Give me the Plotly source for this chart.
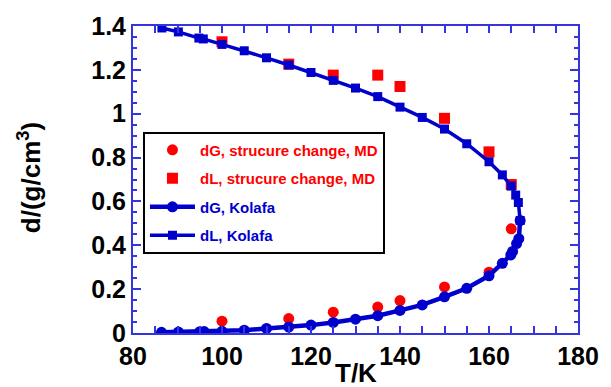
import plotly.graph_objects as go

# Kolafa coexistence curve: gas branch (dG) and liquid branch (dL)
T_gas = [86.4, 90.2, 95.0, 96.0, 100, 105, 110, 115, 120, 125, 130, 135, 140,
         145, 150, 155, 160, 163, 164.9, 165.3, 166.2, 166.7, 167.0]
d_gas = [0.003, 0.004, 0.006, 0.0065, 0.0076, 0.013, 0.021, 0.027, 0.036, 0.048,
         0.063, 0.079, 0.103, 0.128, 0.165, 0.204, 0.261, 0.318, 0.356, 0.372,
         0.408, 0.430, 0.513]

T_liq = [86.5, 90.2, 94.8, 95.8, 100, 105, 110, 115, 120, 125, 130, 135, 140,
         145, 150, 155, 160, 163, 165, 166.0, 166.6, 167.0]
d_liq = [1.391, 1.373, 1.345, 1.341, 1.316, 1.287, 1.255, 1.222, 1.188, 1.152,
         1.117, 1.078, 1.030, 0.983, 0.930, 0.863, 0.781, 0.721, 0.670, 0.629,
         0.595, 0.513]

# MD results from the structure-change analysis
T_md_gas = [100, 115, 125, 135, 140, 150, 160, 165]
d_md_gas = [0.054, 0.066, 0.095, 0.118, 0.148, 0.210, 0.277, 0.475]

T_md_liq = [100, 115, 125, 135, 140, 150, 160, 165]
d_md_liq = [1.328, 1.226, 1.176, 1.176, 1.124, 0.979, 0.826, 0.677]

x_ticks = [80, 100, 120, 140, 160, 180]
y_ticks = [0, 0.2, 0.4, 0.6, 0.8, 1.0, 1.2, 1.4]

RED = "#ff0000"
BLUE = "#0000cc"
AXIS = "#3535e0"
FONT = "Liberation Sans"

fig = go.Figure()

fig.add_trace(go.Scatter(
    x=T_md_gas, y=d_md_gas, mode="markers", legendgroup="a",
    name='<span style="color:#ff0000">dG, strucure change, MD</span>',
    marker=dict(symbol="circle", size=11, color=RED, line=dict(width=0)),
))
fig.add_trace(go.Scatter(
    x=T_md_liq, y=d_md_liq, mode="markers", legendgroup="b",
    name='<span style="color:#ff0000">dL, strucure change, MD</span>',
    marker=dict(symbol="square", size=11, color=RED, line=dict(width=0)),
))
fig.add_trace(go.Scatter(
    x=T_gas, y=d_gas, mode="lines+markers", legendgroup="c",
    name='<span style="color:#0000cc">dG, Kolafa</span>',
    line=dict(color=BLUE, width=4.5),
    marker=dict(symbol="circle", size=11, color=BLUE, line=dict(width=0)),
))
fig.add_trace(go.Scatter(
    x=T_liq, y=d_liq, mode="lines+markers", legendgroup="d",
    name='<span style="color:#0000cc">dL, Kolafa</span>',
    line=dict(color=BLUE, width=3.5),
    marker=dict(symbol="square", size=9, color=BLUE, line=dict(width=0)),
))

axis_common = dict(
    showline=True, linecolor=AXIS, linewidth=2, mirror="ticks",
    showgrid=False, zeroline=False, ticks="inside", tickcolor=AXIS,
    tickwidth=1.5,
    tickfont=dict(family=FONT, size=25, color="black", weight="bold"),
)

fig.update_xaxes(
    range=[80, 180], tickvals=x_ticks, ticklen=7,
    minor=dict(dtick=5, tick0=80, ticks="inside", ticklen=7, tickcolor=AXIS,
               tickwidth=1.5, showgrid=False),
    **axis_common,
)
fig.update_yaxes(
    range=[0, 1.4], tickvals=y_ticks, ticktext=[f"{v:g}" for v in y_ticks],
    ticklen=8,
    minor=dict(dtick=0.05, tick0=0, ticks="inside", ticklen=4, tickcolor=AXIS,
               tickwidth=1.5, showgrid=False),
    **axis_common,
)

fig.add_annotation(
    text="d/(g/cm<sup>3</sup>)", xref="paper", yref="paper",
    x=-0.231, y=0.505, textangle=-90, showarrow=False,
    xanchor="center", yanchor="middle",
    font=dict(family=FONT, size=26, color="black", weight="bold"),
)
fig.add_annotation(
    text="T/K", xref="paper", yref="paper",
    x=0.5, y=-0.131, showarrow=False, xanchor="center", yanchor="middle",
    font=dict(family=FONT, size=26, color="black", weight="bold"),
)

fig.update_layout(
    width=611, height=387,
    margin=dict(l=133, r=32, t=20, b=54),
    paper_bgcolor="white", plot_bgcolor="white",
    showlegend=True,
    legend=dict(
        x=0.0224, y=0.656, xanchor="left", yanchor="top",
        bgcolor="white", bordercolor="black", borderwidth=2,
        font=dict(family=FONT, size=15, weight="bold"),
        tracegroupgap=6, itemwidth=45, traceorder="grouped",
    ),
)

fig.write_html("out.html")
